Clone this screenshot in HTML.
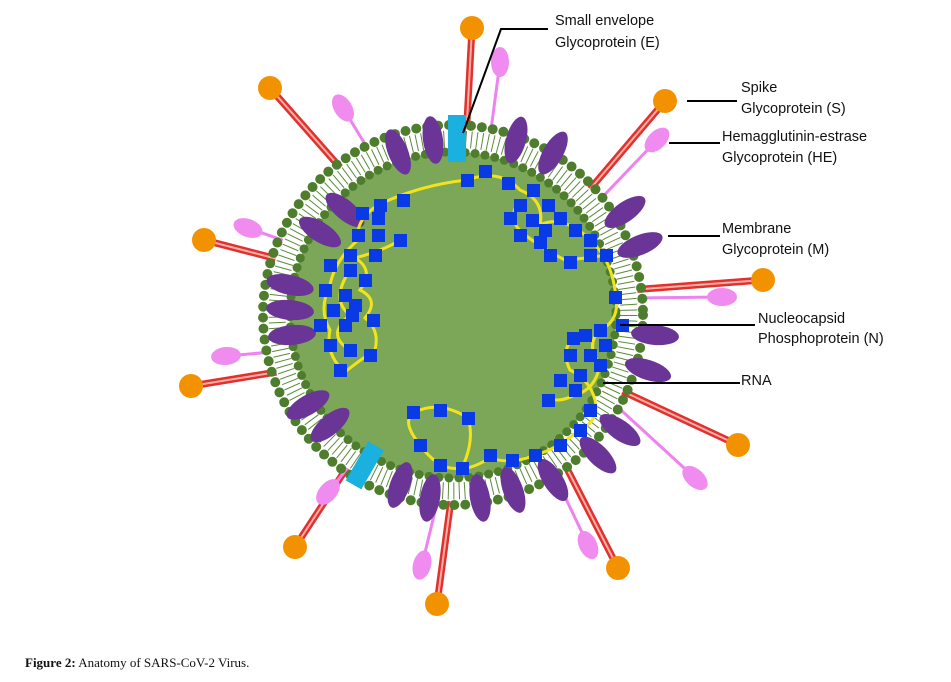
<!DOCTYPE html>
<html><head><meta charset="utf-8"><style>
html,body{margin:0;padding:0;background:#fff;}
svg{display:block}
text{font-family:"Liberation Sans",Arial,sans-serif;font-size:14.5px;fill:#111}
</style></head><body>
<svg width="951" height="682" viewBox="0 0 951 682" xmlns="http://www.w3.org/2000/svg">
<g stroke="#e03030" stroke-width="7">
<line x1="472" y1="28" x2="466" y2="140"/>
<line x1="270" y1="88" x2="360" y2="190"/>
<line x1="665" y1="101" x2="585" y2="195"/>
<line x1="204" y1="240" x2="320" y2="270"/>
<line x1="763" y1="280" x2="630" y2="290"/>
<line x1="191" y1="386" x2="320" y2="365"/>
<line x1="738" y1="445" x2="620" y2="390"/>
<line x1="295" y1="547" x2="365" y2="440"/>
<line x1="618" y1="568" x2="560" y2="455"/>
<line x1="437" y1="604" x2="455" y2="470"/>
</g>
<g stroke="#ffb0a0" stroke-width="2">
<line x1="472" y1="28" x2="466" y2="140"/>
<line x1="270" y1="88" x2="360" y2="190"/>
<line x1="665" y1="101" x2="585" y2="195"/>
<line x1="204" y1="240" x2="320" y2="270"/>
<line x1="763" y1="280" x2="630" y2="290"/>
<line x1="191" y1="386" x2="320" y2="365"/>
<line x1="738" y1="445" x2="620" y2="390"/>
<line x1="295" y1="547" x2="365" y2="440"/>
<line x1="618" y1="568" x2="560" y2="455"/>
<line x1="437" y1="604" x2="455" y2="470"/>
</g>
<g fill="#f39200">
<circle cx="472" cy="28" r="12"/><circle cx="270" cy="88" r="12"/><circle cx="665" cy="101" r="12"/>
<circle cx="204" cy="240" r="12"/><circle cx="763" cy="280" r="12"/><circle cx="191" cy="386" r="12"/>
<circle cx="738" cy="445" r="12"/><circle cx="295" cy="547" r="12"/><circle cx="618" cy="568" r="12"/>
<circle cx="437" cy="604" r="12"/>
</g>
<g stroke="#ee82ee" stroke-width="3">
<line x1="500" y1="62" x2="487" y2="160"/>
<line x1="343" y1="108" x2="390" y2="185"/>
<line x1="657" y1="140" x2="590" y2="210"/>
<line x1="248" y1="228" x2="325" y2="255"/>
<line x1="722" y1="297" x2="630" y2="298"/>
<line x1="226" y1="356" x2="318" y2="348"/>
<line x1="695" y1="478" x2="610" y2="400"/>
<line x1="588" y1="545" x2="545" y2="455"/>
<line x1="422" y1="565" x2="445" y2="470"/>
<line x1="328" y1="492" x2="375" y2="435"/>
</g>
<g fill="#f08cf0">
<ellipse cx="500" cy="62" rx="9" ry="15"/>
<ellipse cx="343" cy="108" rx="9" ry="15" transform="rotate(-32 343 108)"/>
<ellipse cx="657" cy="140" rx="9" ry="15" transform="rotate(45 657 140)"/>
<ellipse cx="248" cy="228" rx="9" ry="15" transform="rotate(-70 248 228)"/>
<ellipse cx="722" cy="297" rx="9" ry="15" transform="rotate(90 722 297)"/>
<ellipse cx="226" cy="356" rx="9" ry="15" transform="rotate(85 226 356)"/>
<ellipse cx="695" cy="478" rx="9" ry="15" transform="rotate(-48 695 478)"/>
<ellipse cx="588" cy="545" rx="9" ry="15" transform="rotate(-25 588 545)"/>
<ellipse cx="422" cy="565" rx="9" ry="15" transform="rotate(15 422 565)"/>
<ellipse cx="328" cy="492" rx="9" ry="15" transform="rotate(40 328 492)"/>
</g>
<circle cx="453" cy="315" r="186" fill="#fff"/>
<circle cx="453" cy="315" r="176" fill="none" stroke="#5a8a3a" stroke-width="17" stroke-dasharray="1 4.5"/>
<circle cx="453" cy="315" r="190" fill="none" stroke="#4e7d2e" stroke-width="10" stroke-linecap="round" stroke-dasharray="0 11"/>
<circle cx="453" cy="315" r="163" fill="#7ca658"/>
<circle cx="453" cy="315" r="163" fill="none" stroke="#4e7d2e" stroke-width="9" stroke-linecap="round" stroke-dasharray="0 10"/>
<g fill="#6b3597">
<ellipse cx="433" cy="140" rx="10" ry="24" transform="rotate(-8 433 140)"/>
<ellipse cx="398" cy="152" rx="10" ry="24" transform="rotate(-22 398 152)"/>
<ellipse cx="516" cy="140" rx="10" ry="24" transform="rotate(15 516 140)"/>
<ellipse cx="553" cy="153" rx="10" ry="24" transform="rotate(30 553 153)"/>
<ellipse cx="625" cy="212" rx="10" ry="24" transform="rotate(55 625 212)"/>
<ellipse cx="640" cy="245" rx="10" ry="24" transform="rotate(68 640 245)"/>
<ellipse cx="345" cy="210" rx="10" ry="24" transform="rotate(-50 345 210)"/>
<ellipse cx="320" cy="232" rx="10" ry="24" transform="rotate(-58 320 232)"/>
<ellipse cx="290" cy="285" rx="10" ry="24" transform="rotate(-78 290 285)"/>
<ellipse cx="290" cy="310" rx="10" ry="24" transform="rotate(-85 290 310)"/>
<ellipse cx="292" cy="335" rx="10" ry="24" transform="rotate(-95 292 335)"/>
<ellipse cx="308" cy="405" rx="10" ry="24" transform="rotate(-120 308 405)"/>
<ellipse cx="330" cy="425" rx="10" ry="24" transform="rotate(-130 330 425)"/>
<ellipse cx="400" cy="485" rx="10" ry="24" transform="rotate(-160 400 485)"/>
<ellipse cx="430" cy="498" rx="10" ry="24" transform="rotate(-170 430 498)"/>
<ellipse cx="480" cy="498" rx="10" ry="24" transform="rotate(170 480 498)"/>
<ellipse cx="513" cy="490" rx="10" ry="24" transform="rotate(160 513 490)"/>
<ellipse cx="553" cy="480" rx="10" ry="24" transform="rotate(148 553 480)"/>
<ellipse cx="598" cy="455" rx="10" ry="24" transform="rotate(135 598 455)"/>
<ellipse cx="620" cy="430" rx="10" ry="24" transform="rotate(125 620 430)"/>
<ellipse cx="655" cy="335" rx="10" ry="24" transform="rotate(95 655 335)"/>
<ellipse cx="648" cy="370" rx="10" ry="24" transform="rotate(108 648 370)"/>
</g>
<rect x="448" y="115" width="18" height="47" fill="#1ab0e0"/>
<rect x="356" y="443" width="18" height="45" fill="#1ab0e0" transform="rotate(30 365 465)"/>
<g fill="none" stroke="#f2e41c" stroke-width="3">
<path d="M378 205 Q420 185 467 180 Q500 168 520 190 Q545 200 540 225 Q560 215 585 235 Q610 255 615 290 Q622 320 600 330 Q585 345 600 365 Q595 390 575 395 Q555 405 545 395"/>
<path d="M520 200 Q505 220 525 235 Q545 250 565 260 Q590 258 605 255"/>
<path d="M575 335 Q560 350 570 370 Q590 380 595 400 Q600 420 580 430"/>
<path d="M378 205 Q355 220 358 240 Q335 260 330 285 Q318 310 330 330 Q325 355 345 372 Q360 360 375 350 Q380 330 365 318 Q380 300 360 290 Q375 270 355 258 Q385 250 400 240"/>
<path d="M350 270 Q330 300 350 315 Q325 335 350 350"/>
<path d="M580 430 Q555 450 535 455 Q512 465 490 458 Q470 470 460 468 Q440 472 420 445 Q400 420 415 412 Q440 400 468 418 Q475 440 462 468"/>
</g>
<g fill="#0a3ae6">
<rect x="461" y="174" width="13" height="13"/><rect x="479" y="165" width="13" height="13"/><rect x="502" y="177" width="13" height="13"/>
<rect x="527" y="184" width="13" height="13"/><rect x="542" y="199" width="13" height="13"/><rect x="514" y="199" width="13" height="13"/>
<rect x="504" y="212" width="13" height="13"/><rect x="526" y="214" width="13" height="13"/><rect x="539" y="224" width="13" height="13"/>
<rect x="554" y="212" width="13" height="13"/><rect x="569" y="224" width="13" height="13"/><rect x="584" y="234" width="13" height="13"/>
<rect x="514" y="229" width="13" height="13"/><rect x="534" y="236" width="13" height="13"/><rect x="544" y="249" width="13" height="13"/>
<rect x="564" y="256" width="13" height="13"/><rect x="584" y="249" width="13" height="13"/><rect x="600" y="249" width="13" height="13"/>
<rect x="609" y="291" width="13" height="13"/><rect x="616" y="319" width="13" height="13"/><rect x="594" y="324" width="13" height="13"/>
<rect x="579" y="329" width="13" height="13"/><rect x="567" y="332" width="13" height="13"/><rect x="599" y="339" width="13" height="13"/>
<rect x="584" y="349" width="13" height="13"/><rect x="564" y="349" width="13" height="13"/><rect x="594" y="359" width="13" height="13"/>
<rect x="574" y="369" width="13" height="13"/><rect x="554" y="374" width="13" height="13"/><rect x="569" y="384" width="13" height="13"/>
<rect x="542" y="394" width="13" height="13"/><rect x="584" y="404" width="13" height="13"/>
<rect x="397" y="194" width="13" height="13"/><rect x="374" y="199" width="13" height="13"/><rect x="356" y="207" width="13" height="13"/>
<rect x="372" y="212" width="13" height="13"/><rect x="352" y="229" width="13" height="13"/><rect x="372" y="229" width="13" height="13"/>
<rect x="394" y="234" width="13" height="13"/><rect x="344" y="249" width="13" height="13"/><rect x="369" y="249" width="13" height="13"/>
<rect x="324" y="259" width="13" height="13"/><rect x="344" y="264" width="13" height="13"/><rect x="359" y="274" width="13" height="13"/>
<rect x="319" y="284" width="13" height="13"/><rect x="339" y="289" width="13" height="13"/><rect x="349" y="299" width="13" height="13"/>
<rect x="327" y="304" width="13" height="13"/><rect x="346" y="309" width="13" height="13"/><rect x="367" y="314" width="13" height="13"/>
<rect x="314" y="319" width="13" height="13"/><rect x="339" y="319" width="13" height="13"/><rect x="324" y="339" width="13" height="13"/>
<rect x="344" y="344" width="13" height="13"/><rect x="364" y="349" width="13" height="13"/><rect x="334" y="364" width="13" height="13"/>
<rect x="407" y="406" width="13" height="13"/><rect x="434" y="404" width="13" height="13"/><rect x="462" y="412" width="13" height="13"/>
<rect x="414" y="439" width="13" height="13"/><rect x="434" y="459" width="13" height="13"/><rect x="456" y="462" width="13" height="13"/>
<rect x="484" y="449" width="13" height="13"/><rect x="506" y="454" width="13" height="13"/><rect x="529" y="449" width="13" height="13"/>
<rect x="554" y="439" width="13" height="13"/><rect x="574" y="424" width="13" height="13"/>
</g>
<g stroke="#000" stroke-width="2" fill="none">
<polyline points="548,29 501,29 463,133"/>
<line x1="687" y1="101" x2="737" y2="101"/>
<line x1="669" y1="143" x2="720" y2="143"/>
<line x1="668" y1="236" x2="720" y2="236"/>
<line x1="620" y1="325" x2="755" y2="325"/>
<line x1="603" y1="383" x2="740" y2="383"/>
</g>
<text x="555" y="25">Small envelope</text>
<text x="555" y="47">Glycoprotein (E)</text>
<text x="741" y="92">Spike</text>
<text x="741" y="113">Glycoprotein (S)</text>
<text x="722" y="141">Hemagglutinin-estrase</text>
<text x="722" y="162">Glycoprotein (HE)</text>
<text x="722" y="233">Membrane</text>
<text x="722" y="254">Glycoprotein (M)</text>
<text x="758" y="323">Nucleocapsid</text>
<text x="758" y="343">Phosphoprotein (N)</text>
<text x="741" y="385">RNA</text>
<text x="25" y="667" style="font-family:'Liberation Serif',serif;font-size:13px"><tspan font-weight="bold">Figure 2:</tspan> Anatomy of SARS-CoV-2 Virus.</text>
</svg>
</body></html>
